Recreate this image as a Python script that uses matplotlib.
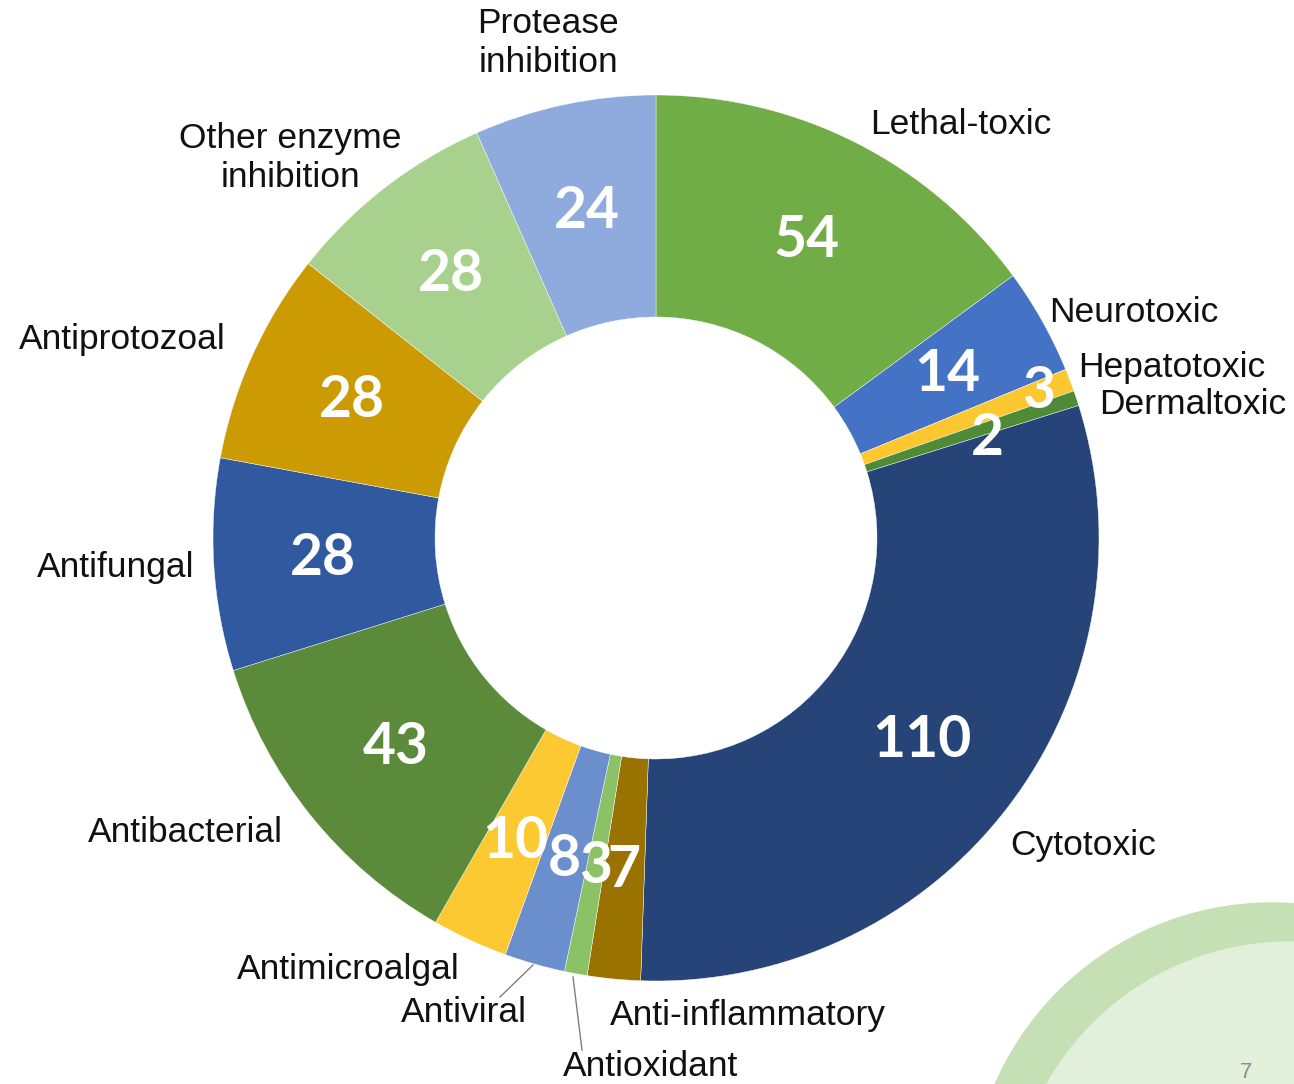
import numpy as np
import matplotlib.pyplot as plt
from matplotlib.patches import Circle

# data, clockwise from 12 o'clock
categories = ["Lethal-toxic", "Neurotoxic", "Hepatotoxic", "Dermaltoxic", "Cytotoxic",
              "Anti-inflammatory", "Antioxidant", "Antiviral", "Antimicroalgal",
              "Antibacterial", "Antifungal", "Antiprotozoal",
              "Other enzyme\ninhibition", "Protease\ninhibition"]
counts = [54, 14, 3, 2, 110, 7, 3, 8, 10, 43, 28, 28, 28, 24]
colors = ["#70AD47", "#4472C4", "#FDC82F", "#4F8A37", "#264478",
          "#9A7200", "#8CC266", "#6A8FCC", "#FDC933",
          "#5A8A3A", "#30599F", "#CC9A02", "#A9D18E", "#8FAADC"]

W, H = 1294, 1084
fig = plt.figure(figsize=(W / 100, H / 100), dpi=100)
ax = fig.add_axes([0, 0, 1, 1])

cx, cy, R = 656, H - 538, 443
wedges, _ = ax.pie(counts, radius=R, center=(cx, cy), startangle=90, counterclock=False,
                   colors=colors, wedgeprops=dict(width=222, edgecolor="white", linewidth=0.3))

# decorative slide corner
ax.add_patch(Circle((1272, H - 1205), 302, color="#C5E0B4", zorder=0))
ax.add_patch(Circle((1290, H - 1221), 279, color="#E2EFDA", zorder=0))
ax.text(1246, H - 1062, "7", ha="center", va="top", fontsize=16, color="#8C8C8C",
        family="Liberation Sans")

# value labels in the ring
r_off = {2: 410, 3: 346}
a_off = {3: -1.6}
for i, (w, v) in enumerate(zip(wedges, counts)):
    ang = np.deg2rad((w.theta1 + w.theta2) / 2 + a_off.get(i, 0))
    r = r_off.get(i, 334)
    ax.text(cx + r * np.cos(ang), cy + r * np.sin(ang), str(v), ha="center", va="center",
            fontsize=41, fontweight="bold", color="white", family="Lato")

# category labels (pixel positions from the slide)
label_pos = {
    "Lethal-toxic": (961, 125), "Neurotoxic": (1134, 312), "Hepatotoxic": (1172, 367),
    "Dermaltoxic": (1193, 405), "Cytotoxic": (1083, 845), "Anti-inflammatory": (748, 1015),
    "Antioxidant": (651, 1067), "Antiviral": (464, 1013), "Antimicroalgal": (348, 970),
    "Antibacterial": (185, 832), "Antifungal": (116, 567), "Antiprotozoal": (122, 339),
    "Other enzyme\ninhibition": (290, 158), "Protease\ninhibition": (548, 43),
}
for name in categories:
    x, y = label_pos[name]
    ax.text(x, H - y, name, ha="center", va="center", fontsize=25.5, color="#111111",
            family="Liberation Sans", linespacing=1.2)

# leader lines for the thin slices
ax.plot([500, 533], [H - 997, H - 965], color="#7F7F7F", lw=1)
ax.plot([573, 582], [H - 977, H - 1050], color="#7F7F7F", lw=1)

ax.set_xlim(0, W)
ax.set_ylim(0, H)
ax.set_aspect("equal")
ax.axis("off")
fig.savefig("out.png", dpi=100, facecolor="white")
